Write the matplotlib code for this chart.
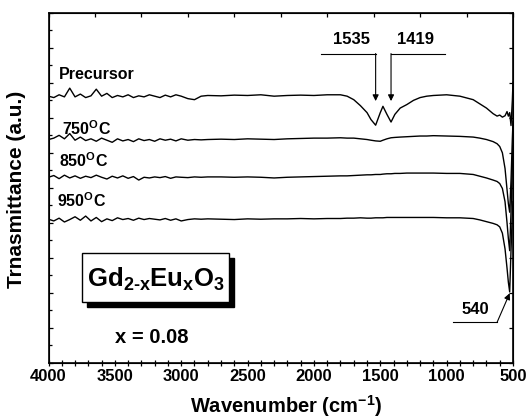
import matplotlib
matplotlib.use("Agg")
import matplotlib.pyplot as plt
from matplotlib.patches import Rectangle
from matplotlib.ticker import MultipleLocator
import numpy as np

plt.rcParams['font.family'] = ['Liberation Sans', 'DejaVu Sans']
plt.rcParams['font.weight'] = 'bold'
plt.rcParams['mathtext.fontset'] = 'custom'
plt.rcParams['mathtext.rm'] = 'Liberation Sans:bold'
plt.rcParams['mathtext.it'] = 'Liberation Sans:bold'
plt.rcParams['mathtext.bf'] = 'Liberation Sans:bold'

# wavenumber grid (cm-1), shared by all spectra
wavenumber = [4000, 3960, 3920, 3880, 3840, 3800, 3760, 3720, 3680, 3640,
              3600, 3560, 3520, 3480, 3440, 3400, 3360, 3320, 3280, 3240,
              3200, 3160, 3120, 3080, 3040, 3000, 2950, 2900, 2850, 2800,
              2700, 2600, 2500, 2400, 2300, 2200, 2100, 2000, 1900, 1800,
              1750, 1700, 1650, 1600, 1570, 1535, 1500, 1480, 1450, 1419,
              1390, 1350, 1300, 1250, 1200, 1150, 1100, 1000, 900, 800,
              750, 700, 650, 620, 600, 580, 560, 545, 535, 525,
              515, 505, 500]

# transmittance, arbitrary units (curves are stacked)
precursor = [7.62, 7.58, 7.66, 7.60, 7.85, 7.60, 7.68, 7.58, 7.63, 7.82,
             7.62, 7.70, 7.58, 7.64, 7.60, 7.66, 7.58, 7.63, 7.60, 7.66,
             7.62, 7.58, 7.65, 7.60, 7.66, 7.62, 7.55, 7.52, 7.62, 7.64,
             7.63, 7.65, 7.64, 7.66, 7.62, 7.64, 7.65, 7.64, 7.66, 7.66,
             7.62, 7.52, 7.35, 7.15, 6.95, 6.79, 7.15, 7.33, 7.10, 6.88,
             7.10, 7.28, 7.38, 7.50, 7.58, 7.62, 7.64, 7.66, 7.62, 7.52,
             7.40, 7.28, 7.12, 7.05, 7.08, 7.02, 7.06, 7.18, 7.05, 7.15,
             6.78, 7.50, 8.02]

c750 = [6.38, 6.42, 6.50, 6.40, 6.55, 6.36, 6.45, 6.35, 6.40, 6.33,
        6.42, 6.36, 6.30, 6.40, 6.34, 6.38, 6.32, 6.40, 6.35, 6.38,
        6.33, 6.40, 6.36, 6.39, 6.34, 6.40, 6.36, 6.38, 6.37, 6.38,
        6.39, 6.38, 6.40, 6.39, 6.38, 6.40, 6.41, 6.42, 6.42, 6.43,
        6.42, 6.42, 6.40, 6.38, 6.36, 6.34, 6.33, 6.36, 6.40, 6.43,
        6.44, 6.45, 6.46, 6.47, 6.48, 6.48, 6.49, 6.48, 6.47, 6.45,
        6.42, 6.38, 6.32, 6.26, 6.18, 6.00, 5.55, 4.95, 4.55, 4.30,
        5.20, 6.40, 6.90]

c850 = [5.30, 5.35, 5.26, 5.36, 5.28, 5.34, 5.27, 5.33, 5.29, 5.36,
        5.30, 5.25, 5.33, 5.28, 5.34, 5.27, 5.32, 5.22, 5.30, 5.28,
        5.31, 5.29, 5.32, 5.27, 5.31, 5.30, 5.29, 5.31, 5.30, 5.31,
        5.31, 5.30, 5.31, 5.30, 5.28, 5.30, 5.31, 5.32, 5.33, 5.34,
        5.34, 5.35, 5.36, 5.37, 5.37, 5.38, 5.38, 5.39, 5.40, 5.40,
        5.41, 5.41, 5.42, 5.42, 5.42, 5.42, 5.42, 5.41, 5.41, 5.38,
        5.33, 5.28, 5.22, 5.18, 5.12, 4.98, 4.60, 4.00, 3.55, 3.20,
        4.30, 5.70, 6.20]

c950 = [4.10, 4.05, 4.13, 4.02, 4.09, 4.17, 4.07, 4.19, 4.05, 4.15,
        4.03, 4.11, 4.06, 4.14, 4.09, 4.12, 4.07, 4.13, 4.09, 4.12,
        4.10, 4.08, 4.12, 4.07, 4.11, 4.05, 4.09, 4.11, 4.10, 4.11,
        4.10, 4.09, 4.11, 4.10, 4.11, 4.11, 4.12, 4.11, 4.12, 4.12,
        4.13, 4.13, 4.14, 4.13, 4.13, 4.14, 4.14, 4.14, 4.15, 4.15,
        4.15, 4.15, 4.15, 4.15, 4.15, 4.15, 4.15, 4.14, 4.14, 4.12,
        4.08, 4.03, 3.98, 3.94, 3.88, 3.70, 3.25, 2.70, 2.30, 2.02,
        3.20, 4.30, 4.60]

series = [precursor, c750, c850, c950]
xticks = [4000, 3500, 3000, 2500, 2000, 1500, 1000, 500]

fig = plt.figure(figsize=(5.31, 4.20), dpi=100)
ax = fig.add_axes([48.5 / 531, 1 - 362.5 / 420, 464.5 / 531, 349.5 / 420])

for s in series:
    ax.plot(wavenumber, s, color='black', lw=1.0)

ax.set_xlim(4000, 500)
ax.set_ylim(0, 10)
ax.set_xticks(xticks)
ax.set_xticklabels([str(t) for t in xticks], fontsize=12, fontweight='bold')
ax.xaxis.set_minor_locator(MultipleLocator(100))
ax.yaxis.set_major_locator(MultipleLocator(1))
ax.yaxis.set_minor_locator(MultipleLocator(0.5))
ax.set_yticklabels([])
ax.tick_params(axis='x', which='both', direction='inout', length=5, width=0.9,
               top=False, pad=2)
ax.tick_params(axis='y', which='major', direction='in', length=3, width=0.9,
               left=True, right=True)
ax.tick_params(axis='y', which='minor', direction='in', length=2, width=0.9,
               left=True, right=False)
for sp in ax.spines.values():
    sp.set_linewidth(1.2)

# top axis ticks at ten equal divisions
ax2 = ax.twiny()
ax2.set_xlim(ax.get_xlim())
ax2.set_xticks(np.linspace(4000, 500, 11))
ax2.set_xticklabels([])
ax2.tick_params(axis='x', direction='in', length=3, width=0.9)

# curve labels
fig.text(59 / 531, 1 - 79 / 420, 'Precursor', fontsize=11.5, fontweight='bold',
         va='baseline')
fig.text(62 / 531, 1 - 135 / 420, r'750$^{\mathrm{O}}$C', fontsize=11.5,
         fontweight='bold', va='baseline')
fig.text(59 / 531, 1 - 167 / 420, r'850$^{\mathrm{O}}$C', fontsize=11.5,
         fontweight='bold', va='baseline')
fig.text(57 / 531, 1 - 207 / 420, r'950$^{\mathrm{O}}$C', fontsize=11.5,
         fontweight='bold', va='baseline')

# band markers
arr = dict(arrowstyle='-|>', color='black', lw=0.8, mutation_scale=9,
           shrinkA=0, shrinkB=0)
ax.plot([1946, 1535], [8.84, 8.84], color='black', lw=0.8)
ax.plot([1419, 1010], [8.84, 8.84], color='black', lw=0.8)
ax.annotate('', xy=(1535, 7.48), xytext=(1535, 8.84), arrowprops=arr)
ax.annotate('', xy=(1419, 7.48), xytext=(1419, 8.84), arrowprops=arr)
ax.text(1720, 9.12, '1535', fontsize=12, fontweight='bold', ha='center',
        va='baseline')
ax.text(1238, 9.12, '1419', fontsize=12, fontweight='bold', ha='center',
        va='baseline')

ax.plot([952, 620], [1.15, 1.15], color='black', lw=0.8)
ax.annotate('', xy=(525, 1.98), xytext=(620, 1.15), arrowprops=arr)
ax.text(786, 1.38, '540', fontsize=12, fontweight='bold', ha='center',
        va='baseline')

# composition box with drop shadow
fig.patches.append(Rectangle((87 / 531, 1 - 307 / 420), 147 / 531, 49 / 420,
                             transform=fig.transFigure, facecolor='black',
                             edgecolor='black', zorder=5))
fig.patches.append(Rectangle((82 / 531, 1 - 302 / 420), 147 / 531, 49 / 420,
                             transform=fig.transFigure, facecolor='white',
                             edgecolor='black', lw=1.0, zorder=6))
fig.text(156.5 / 531, 1 - 287 / 420, r'Gd$_{2\text{-}x}$Eu$_{x}$O$_{3}$',
         fontsize=18.5, fontweight='bold', ha='center', va='baseline', zorder=7)
fig.text(152 / 531, 1 - 343 / 420, 'x = 0.08', fontsize=14.5,
         fontweight='bold', ha='center', va='baseline')

# axis titles
fig.text(286 / 531, 1 - 413 / 420, r'Wavenumber (cm$^{-1}$)', fontsize=14.5,
         fontweight='bold', ha='center', va='baseline')
fig.text(17 / 531, 1 - 189 / 420, 'Trnasmittance (a.u.)', fontsize=15,
         fontweight='bold', ha='center', va='center', rotation=90)

fig.savefig('out.png', dpi=100)
